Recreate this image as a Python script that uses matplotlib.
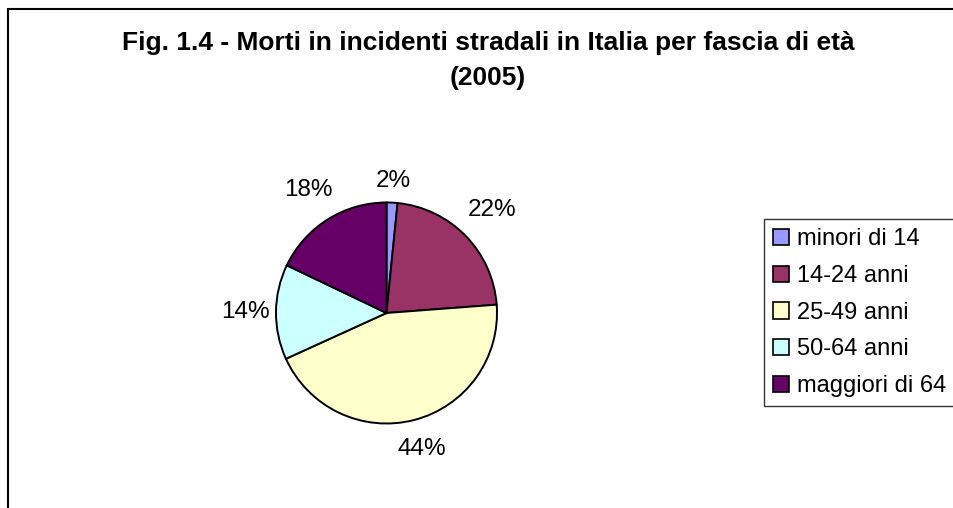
import numpy as np
import matplotlib
matplotlib.use('Agg')
import matplotlib.pyplot as plt
from matplotlib.patches import Rectangle

plt.rcParams['font.family'] = ['Liberation Sans', 'DejaVu Sans']

# data
categories = ['minori di 14', '14-24 anni', '25-49 anni', '50-64 anni', 'maggiori di 64']
shares = [1.6, 22.2, 44.4, 13.9, 17.9]
colors = ['#9999FF', '#993366', '#FFFFCC', '#CCFFFF', '#660066']
title_1 = 'Fig. 1.4 - Morti in incidenti stradali in Italia per fascia di età'
title_2 = '(2005)'

W, H = 954, 508
fig = plt.figure(figsize=(W/100, H/100), dpi=100)
fig.patch.set_facecolor('white')

# chart frame (right and bottom edges fall outside the picture)
fig.patches.append(Rectangle((8/W, -0.2), 1.2, 1.2 - 9/H,
                             transform=fig.transFigure, fill=False,
                             edgecolor='black', linewidth=1.5))

fig.text(488/W, 1 - 50/H, title_1, ha='center', va='baseline',
         fontsize=19, fontweight='bold')
fig.text(488/W, 1 - 85/H, title_2, ha='center', va='baseline',
         fontsize=19, fontweight='bold')

# pie: center (386.5, 313) px, radius 110.5 px
cx, cy, r = 386.5, 313, 110.5
ax = fig.add_axes([(cx - r)/W, (H - cy - r)/H, 2*r/W, 2*r/H])
wedges, texts, autotexts = ax.pie(
    shares, colors=colors, startangle=90, counterclock=False,
    autopct='%1.0f%%', pctdistance=1.28,
    wedgeprops=dict(edgecolor='black', linewidth=1.4),
    textprops=dict(fontsize=17.5, color='black'))
# excel-like label offsets (radial factor per slice)
label_dist = [1.2, 1.33, 1.27, 1.28, 1.32]
for w, t, d in zip(wedges, autotexts, label_dist):
    ang = np.deg2rad((w.theta1 + w.theta2) / 2)
    t.set_position((d*np.cos(ang), d*np.sin(ang)))
ax.set_xlim(-1, 1)
ax.set_ylim(-1, 1)
ax.axis('off')

leg = fig.legend(wedges, categories, loc='upper left',
                 bbox_to_anchor=(764/W, 1 - 219/H), borderaxespad=0,
                 fontsize=17, frameon=True, fancybox=False,
                 edgecolor='black', handlelength=0.68, handleheight=0.68,
                 handletextpad=0.3, labelspacing=0.62, borderpad=0.4)
leg.get_frame().set_linewidth(1.0)
for h in leg.legend_handles:
    h.set_linewidth(1.2)
    h.set_edgecolor('black')

fig.savefig('out.png', dpi=100)
